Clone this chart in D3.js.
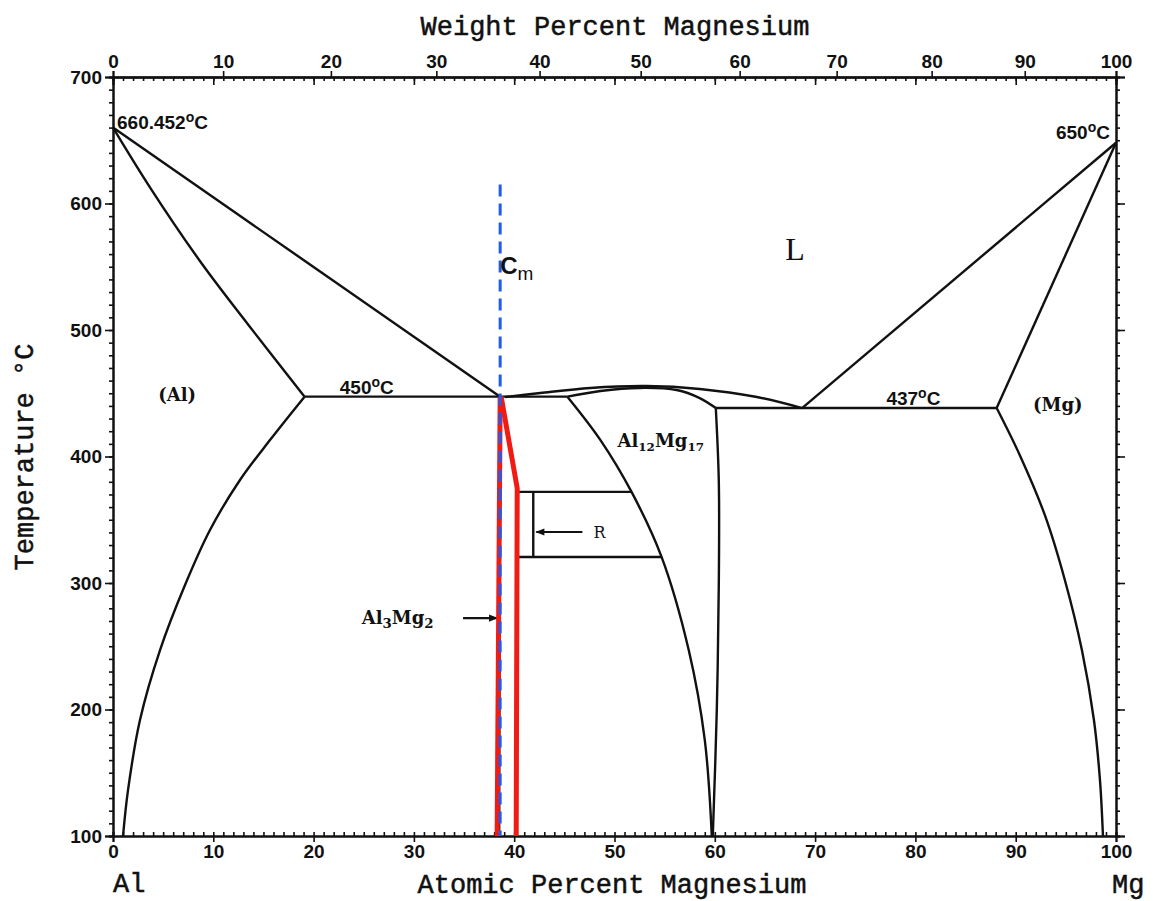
<!DOCTYPE html>
<html>
<head>
<meta charset="utf-8">
<script src="https://cdn.jsdelivr.net/npm/d3@7"></script>
<style>
  body { margin: 0; background: #fff; }
  svg { display: block; }
  .tick text { font-family: "Liberation Sans", Arial, sans-serif; font-weight: bold; font-size: 19px; fill: #111; }
  .title { font-family: "Liberation Mono", "DejaVu Sans Mono", monospace; font-size: 27px; fill: #111; stroke: #111; stroke-width: 0.5; }
  .lbl { font-family: "DejaVu Serif", "Liberation Serif", serif; font-weight: bold; font-size: 18px; fill: #111; }
  .temp { font-family: "Liberation Sans", Arial, sans-serif; font-weight: bold; font-size: 19px; fill: #111; }
</style>
</head>
<body>
<div id="chart"></div>
<script>
// tick labels
const atTicks = [0, 10, 20, 30, 40, 50, 60, 70, 80, 90, 100];
const wtTicks = [0, 10, 20, 30, 40, 50, 60, 70, 80, 90, 100];
const tempTicks = [100, 200, 300, 400, 500, 600, 700];

// phase boundaries, [atomic % Mg, temperature C]
const alLiquidus = [[0, 660], [38.6, 447.3]];
const alSolidus = [[0, 660], [3.7, 612.6], [8.7, 554.2], [13.7, 502], [19.1, 447.3]];
const alSolvus = [[19.1, 447.3], [15.65, 413], [12.66, 381.4], [9.67, 341.9], [7.18, 298.4], [4.69, 247], [2.69, 191.7], [1.5, 136.4], [1.0, 100]];
const eutectic450 = [[19.1, 447.3], [45.3, 447.3]];
const betaBlack = [[38.6, 447.3], [38.5, 100]];
const gammaLiquidus = [[39.1, 447], [42.6, 450.2], [47.6, 454.2], [53.2, 455.7], [58.5, 453.4], [64.2, 447], [68.7, 438.3]];
const gammaSolidus = [[45.3, 447.3], [48.6, 451.8], [52.5, 454.2], [56.2, 452.6], [58.5, 446.2], [60.1, 438.3]];
const gammaLeft = [[45.3, 447.3], [48.6, 413], [51.7, 372], [54.7, 320.5], [57.4, 247], [59.0, 176], [59.7, 100]];
const gammaRight = [[60.1, 438.3], [60.4, 380], [60.4, 300], [60.2, 200], [59.8, 100]];
const rTop = [[40.3, 372], [51.7, 372]];
const rBottom = [[40.2, 320.5], [54.7, 320.5]];
const rPhase = [[41.9, 372], [41.9, 320.5]];
const eutectic437 = [[60.1, 438.3], [88.1, 438.3]];
const mgLiquidus = [[68.7, 438.3], [100, 648]];
const mgSolidus = [[88.1, 438.3], [100, 648]];
const mgSolvus = [[88.1, 438.3], [90.4, 401.2], [92.9, 353.8], [94.9, 302.4], [96.6, 247], [97.8, 191.7], [98.4, 144.3], [98.7, 100]];

// highlighted Al3Mg2 range and Cm composition
const betaRedLeft = [[38.6, 447.3], [38.3, 100]];
const betaRedRight = [[38.7, 447.3], [40.3, 375], [40.2, 100]];
const cmLine = [[38.6, 615], [38.6, 100]];

// arrows [x1, x2, T]
const arrows = [[34.9, 38.3, 272.3], [46.8, 42.2, 340.3]];

// weight % -> atomic % for the top axis
const mAl = 26.982, mMg = 24.305;
function wtToAt(w) {
  const a = w / mMg, b = (100 - w) / mAl;
  return 100 * a / (a + b);
}

const W = 1153, H = 901;
const svg = d3.select("#chart").append("svg").attr("width", W).attr("height", H);
svg.append("rect").attr("width", W).attr("height", H).attr("fill", "#fff");

const x = d3.scaleLinear().domain([0, 100]).range([113, 1116]);
const y = d3.scaleLinear().domain([100, 700]).range([836, 77]);

const line = d3.line().x(d => x(d[0])).y(d => y(d[1]));
const smooth = d3.line().x(d => x(d[0])).y(d => y(d[1])).curve(d3.curveCatmullRom.alpha(0.5));

function styleAxis(g, w) {
  g.select(".domain").attr("stroke", "#111").attr("stroke-width", w || 2);
  g.selectAll(".tick line").attr("stroke", "#111").attr("stroke-width", 1.6);
}

// bottom axis
svg.append("g").attr("transform", `translate(0,${y(100)})`)
  .call(d3.axisTop(x).tickValues(d3.range(0, 101, 1)).tickSize(4).tickFormat(""))
  .call(styleAxis);
svg.append("g").attr("transform", `translate(0,${y(100)})`)
  .call(d3.axisBottom(x).tickValues(atTicks).tickSize(6).tickPadding(3).tickFormat(d3.format("d")))
  .call(styleAxis);

// top axis
svg.append("g").attr("transform", `translate(0,${y(700)})`)
  .call(d3.axisBottom(x).tickValues(d3.range(0, 101, 1)).tickSize(4).tickFormat(""))
  .call(styleAxis);
svg.append("g").attr("transform", `translate(0,${y(700)})`)
  .call(d3.axisBottom(x).tickValues(atTicks).tickSize(8).tickFormat(""))
  .call(styleAxis);
svg.append("g").attr("transform", `translate(0,${y(700)})`)
  .call(d3.axisTop(x).tickValues(wtTicks.map(wtToAt)).tickSize(6).tickPadding(3)
    .tickFormat((d, i) => wtTicks[i]))
  .call(styleAxis);

// left axis
svg.append("g").attr("transform", `translate(${x(0)},0)`)
  .call(d3.axisLeft(y).tickValues(d3.range(100, 701, 10)).tickSize(4).tickFormat(""))
  .call(styleAxis);
svg.append("g").attr("transform", `translate(${x(0)},0)`)
  .call(d3.axisLeft(y).tickValues(tempTicks).tickSize(8).tickPadding(3))
  .call(styleAxis);

// right axis
svg.append("g").attr("transform", `translate(${x(100)},0)`)
  .call(d3.axisRight(y).tickValues(d3.range(100, 701, 10)).tickSize(4).tickFormat(""))
  .call(styleAxis);
svg.append("g").attr("transform", `translate(${x(100)},0)`)
  .call(d3.axisRight(y).tickValues(tempTicks).tickSize(9).tickFormat(""))
  .call(styleAxis);

// phase boundaries
const plot = svg.append("g").attr("fill", "none").attr("stroke", "#111")
  .attr("stroke-width", 2.4).attr("stroke-linejoin", "round");
[alLiquidus, eutectic450, betaBlack, rTop, rBottom, rPhase, eutectic437, mgLiquidus, mgSolidus]
  .forEach(d => plot.append("path").attr("d", line(d)));
[alSolidus, alSolvus, gammaLiquidus, gammaSolidus, gammaLeft, gammaRight, mgSolvus]
  .forEach(d => plot.append("path").attr("d", smooth(d)));

// arrows
const defs = svg.append("defs");
defs.append("marker").attr("id", "head").attr("viewBox", "0 0 10 10")
  .attr("refX", 9).attr("refY", 5).attr("markerWidth", 10).attr("markerHeight", 9)
  .attr("orient", "auto").attr("markerUnits", "userSpaceOnUse")
  .append("path").attr("d", "M0,1 L10,5 L0,9 Z").attr("fill", "#111");
arrows.forEach(a => {
  svg.append("line").attr("x1", x(a[0])).attr("x2", x(a[1]))
    .attr("y1", y(a[2])).attr("y2", y(a[2]))
    .attr("stroke", "#111").attr("stroke-width", 2.2).attr("marker-end", "url(#head)");
});

// red Al3Mg2 boundaries and blue Cm line
[betaRedLeft, betaRedRight].forEach(d =>
  svg.append("path").attr("d", line(d)).attr("fill", "none")
    .attr("stroke", "#f01c14").attr("stroke-width", 5).attr("stroke-linejoin", "round"));
svg.append("path").attr("d", line(cmLine)).attr("fill", "none")
  .attr("stroke", "#1f5bf0").attr("stroke-width", 3).attr("stroke-dasharray", "12,7");

// temperature labels with raised "o"
function degLabel(txt, xv, tv, anchor) {
  const t = svg.append("text").attr("class", "temp").attr("x", x(xv)).attr("y", y(tv))
    .attr("text-anchor", anchor);
  t.append("tspan").text(txt);
  t.append("tspan").attr("dy", -7).attr("font-size", 14).text("o");
  t.append("tspan").attr("dy", 7).text("C");
}
degLabel("660.452", 0.4, 659, "start");
degLabel("650", 99.4, 651, "end");
degLabel("450", 25.3, 449.4, "middle");
degLabel("437", 79.8, 440.7, "middle");

// phase labels
svg.append("text").attr("class", "lbl").attr("x", x(6.4)).attr("y", y(444))
  .attr("text-anchor", "middle").text("(Al)");
svg.append("text").attr("class", "lbl").attr("x", x(94.2)).attr("y", y(436))
  .attr("text-anchor", "middle").text("(Mg)");
svg.append("text").attr("x", x(68)).attr("y", y(555))
  .attr("text-anchor", "middle").attr("font-family", "Liberation Serif, serif")
  .attr("font-size", 32).attr("fill", "#111").text("L");
svg.append("text").attr("x", x(47.9)).attr("y", y(335.6))
  .attr("font-family", "DejaVu Serif, serif").attr("font-size", 16).attr("fill", "#111").text("R");

function formula(parts, xv, tv, size) {
  const t = svg.append("text").attr("class", "lbl").attr("x", x(xv)).attr("y", y(tv))
    .attr("font-size", size);
  parts.forEach(p => {
    if (p.sub) t.append("tspan").attr("dy", 4).attr("font-size", size * 0.7).text(p.s);
    else t.append("tspan").attr("dy", p.back ? -4 : 0).text(p.s);
  });
}
formula([{ s: "Al" }, { s: "12", sub: true }, { s: "Mg", back: true }, { s: "17", sub: true }], 50.3, 407.5, 17);
formula([{ s: "Al" }, { s: "3", sub: true }, { s: "Mg", back: true }, { s: "2", sub: true }], 24.8, 267.6, 19);

// Cm
const cm = svg.append("text").attr("x", x(38.6)).attr("y", y(544))
  .attr("font-family", "Liberation Sans, Arial, sans-serif").attr("fill", "#111");
cm.append("tspan").attr("font-size", 24).attr("font-weight", "bold").text("C");
cm.append("tspan").attr("font-size", 19).attr("dy", 6).text("m");

// axis titles
svg.append("text").attr("class", "title").attr("x", 615).attr("y", 35)
  .attr("text-anchor", "middle").text("Weight Percent Magnesium");
svg.append("text").attr("class", "title").attr("x", 612).attr("y", 893)
  .attr("text-anchor", "middle").text("Atomic Percent Magnesium");
svg.append("text").attr("class", "title").attr("x", 113).attr("y", 892).text("Al");
svg.append("text").attr("class", "title").attr("x", 1112).attr("y", 893).text("Mg");
svg.append("text").attr("class", "title")
  .attr("transform", "translate(33,457) rotate(-90)")
  .attr("text-anchor", "middle").text("Temperature °C");
</script>
</body>
</html>
